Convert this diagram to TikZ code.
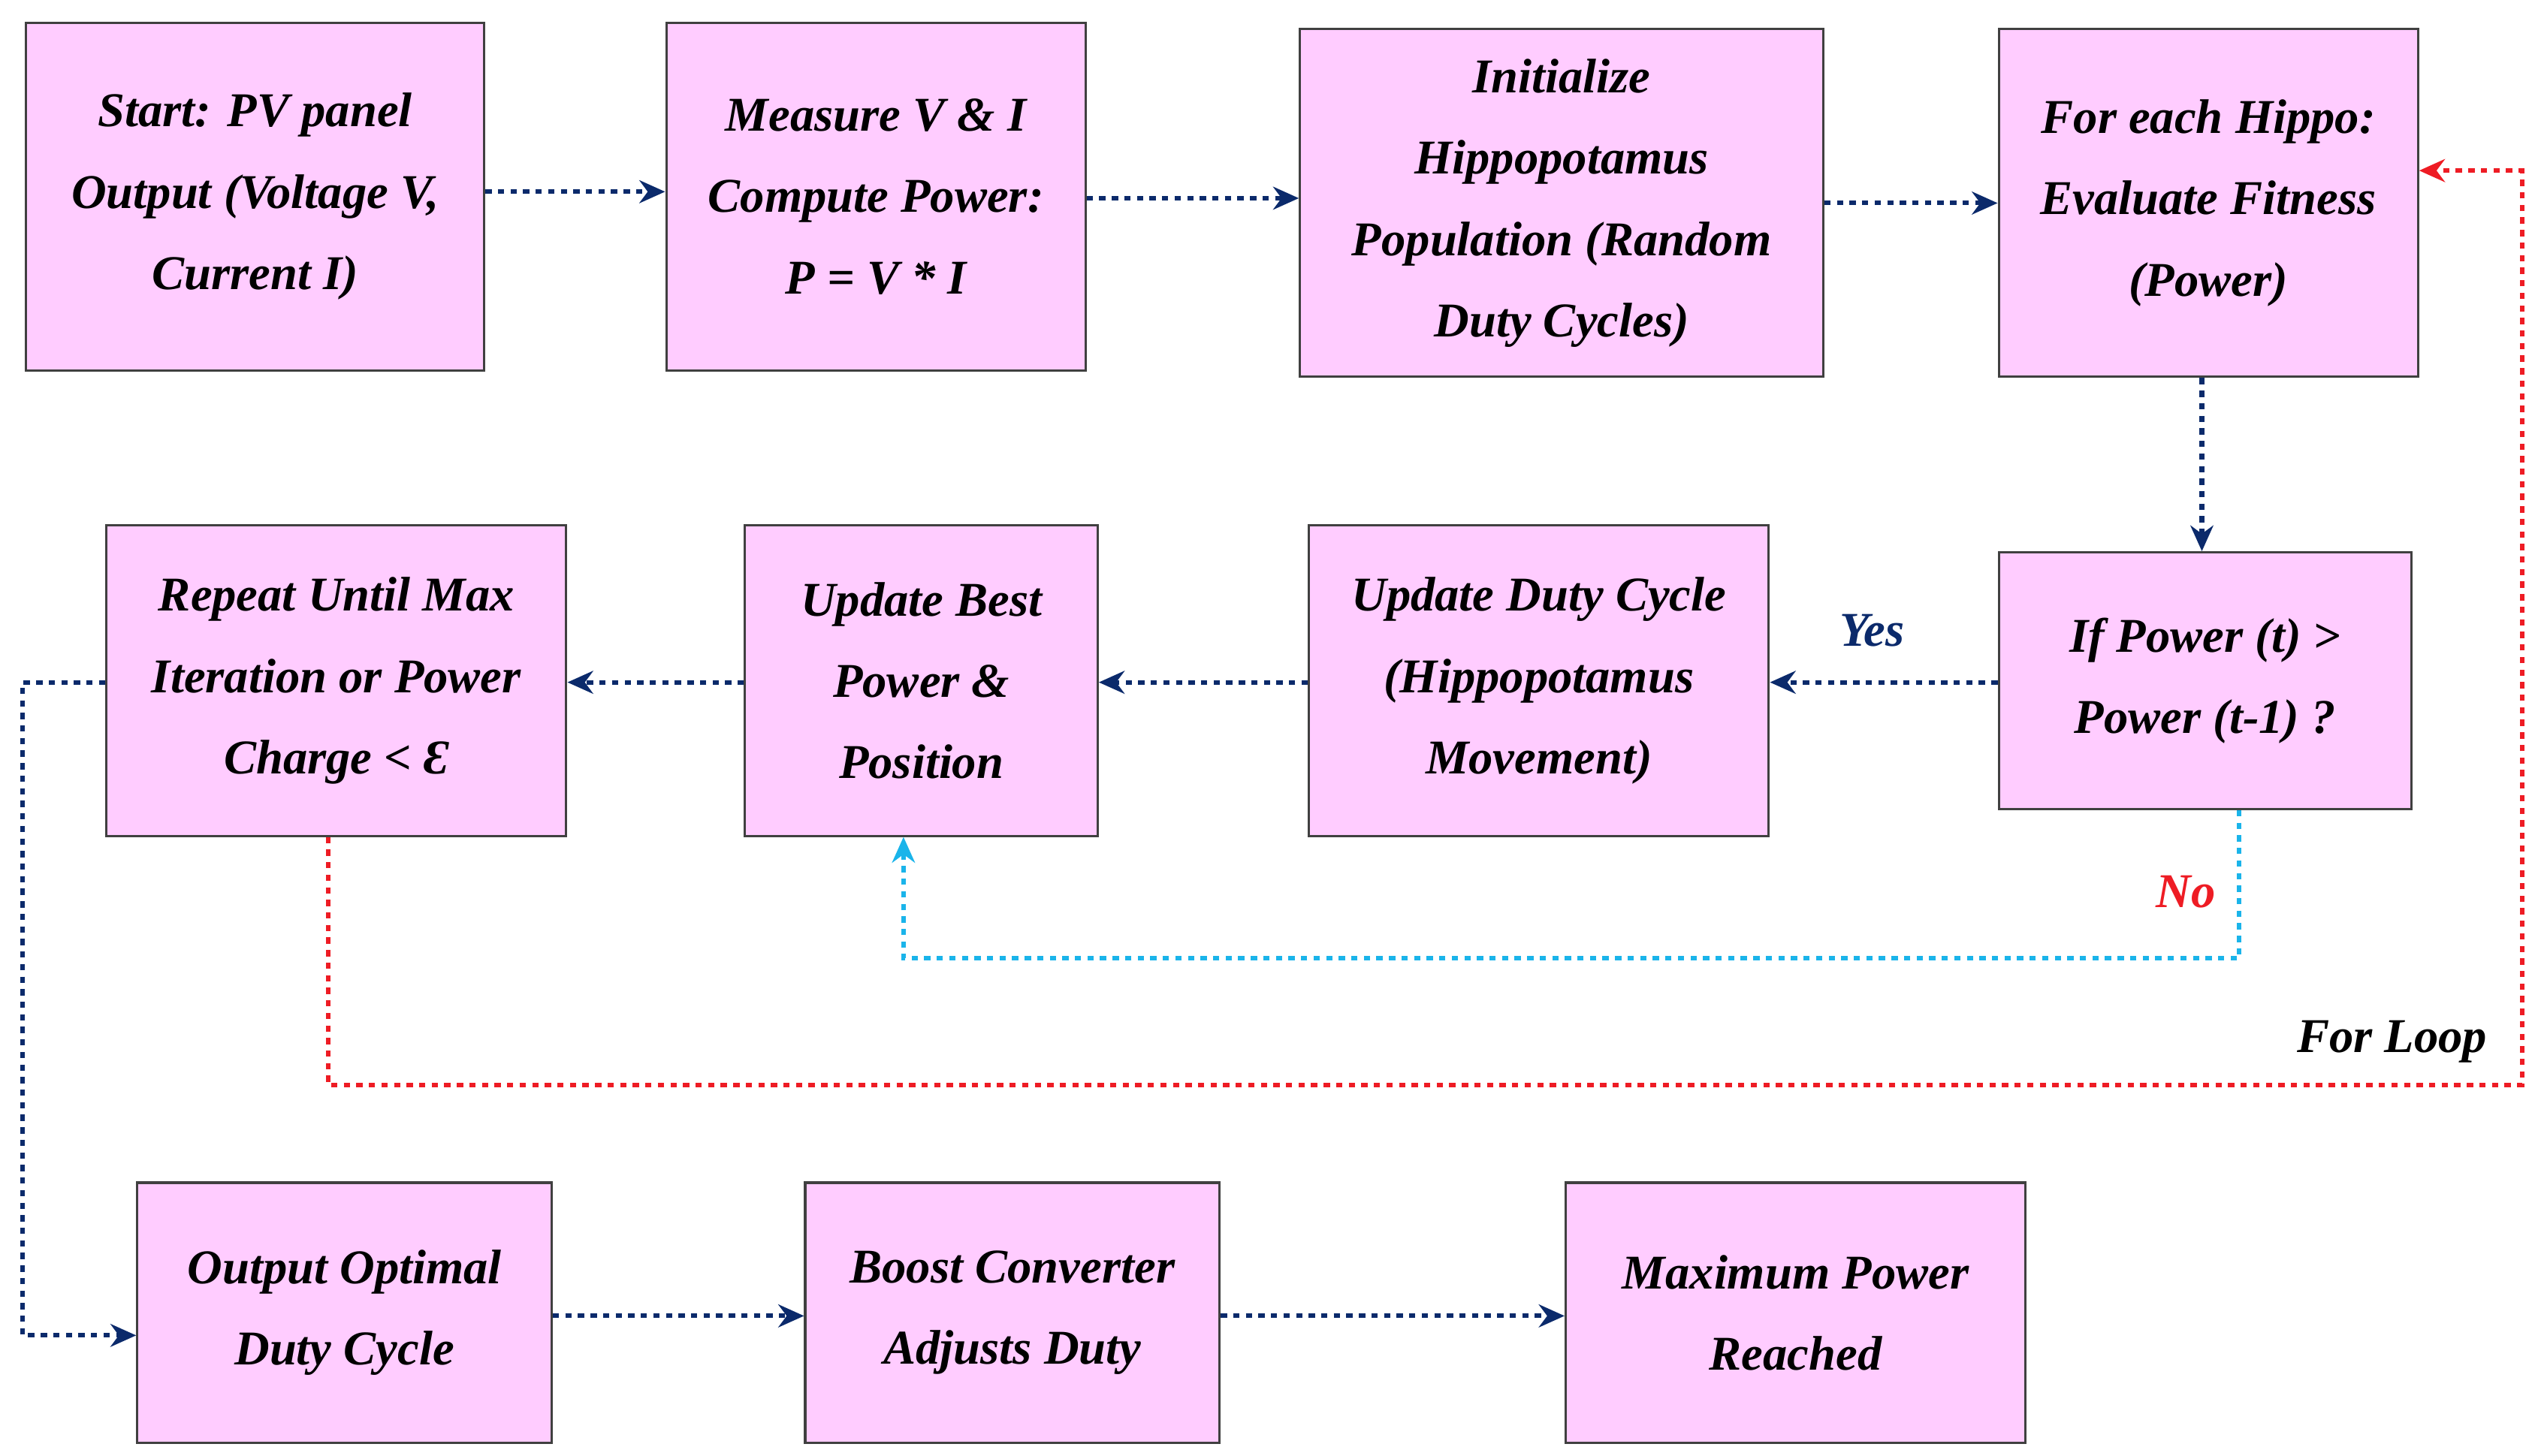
\documentclass[tikz,border=0pt]{standalone}
\usepackage{fontspec}
\setmainfont{Liberation Serif}
\usetikzlibrary{arrows.meta}
\definecolor{pk}{HTML}{FFCCFF}
\definecolor{nv}{HTML}{0B2A6B}
\definecolor{cy}{HTML}{1AB4EA}
\definecolor{rd}{HTML}{EE1C24}
\begin{document}
\begin{tikzpicture}[x=0.02cm,y=-0.02cm,
 box/.style={draw=black!75,line width=0.8pt,fill=pk,align=center,inner sep=0pt,
   font=\fontsize{17}{28.5}\selectfont\bfseries\itshape},
 ar/.style={nv,line width=1.6pt,dash pattern=on 2.2pt off 2.2pt,-{Stealth[length=9pt,width=8pt]}},
 lab/.style={font=\fontsize{17}{20}\selectfont\bfseries\itshape}]
\useasboundingbox (0,0) rectangle (1560,896);
\newcommand\bx[6]{\node[box,minimum width=#4*0.02cm,minimum height=#5*0.02cm] (#1) at (#2,#3) {#6};}
\bx{a}{157}{121}{282}{214}{Start: PV panel\\Output (Voltage V,\\Current I)}
\bx{b}{539}{121}{258}{214}{Measure V \& I\\Compute Power:\\P = V * I}
\bx{c}{961}{125}{322}{214}{Initialize\\Hippopotamus\\Population (Random\\Duty Cycles)}
\bx{d}{1359}{125}{258}{214}{For each Hippo:\\Evaluate Fitness\\(Power)}
\bx{e}{1357}{419}{254}{158}{If Power (t) >\\Power (t-1) ?}
\bx{f}{947}{419}{283}{191}{Update Duty Cycle\\(Hippopotamus\\Movement)}
\bx{g}{567}{419}{217}{191}{Update Best\\Power \&\\Position}
\bx{h}{207}{419}{283}{191}{Repeat Until Max\\Iteration or Power\\Charge < Ɛ}
\bx{i}{212}{808}{255}{160}{Output Optimal\\Duty Cycle}
\bx{j}{623}{808}{255}{160}{Boost Converter\\Adjusts Duty}
\bx{k}{1105}{808}{283}{160}{Maximum Power\\Reached}
\draw[ar] (a.east|-0,118) -- (b.west|-0,118);
\draw[ar] (b.east|-0,122) -- (c.west|-0,122);
\draw[ar] (c.east|-0,125) -- (d.west|-0,125);
\draw[ar] (d.south-|1355,0) -- (e.north-|1355,0);
\draw[ar] (e.west|-0,420) -- (f.east|-0,420);
\draw[ar] (f.west|-0,420) -- (g.east|-0,420);
\draw[ar] (g.west|-0,420) -- (h.east|-0,420);
\coordinate (h1) at (14,420); \coordinate (h2) at (14,822);
\draw[ar] (h.west|-0,420) -- (h1) -- (h2) -- (i.west|-0,822);
\draw[ar] (i.east|-0,810) -- (j.west|-0,810);
\draw[ar] (j.east|-0,810) -- (k.west|-0,810);
\coordinate (c1) at (1378,590); \coordinate (c2) at (556,590);
\draw[ar,cy] (e.south-|1378,0) -- (c1) -- (c2) -- (g.south-|556,0);
\coordinate (r1) at (202,668); \coordinate (r2) at (1552,668); \coordinate (r3) at (1552,105);
\draw[ar,rd] (h.south-|202,0) -- (r1) -- (r2) -- (r3) -- (d.east|-0,105);
\node[lab,nv] at (1152,388) {Yes};
\node[lab,rd] at (1345,549) {No};
\node[lab,black] at (1472,641) {For Loop};
\end{tikzpicture}
\end{document}
